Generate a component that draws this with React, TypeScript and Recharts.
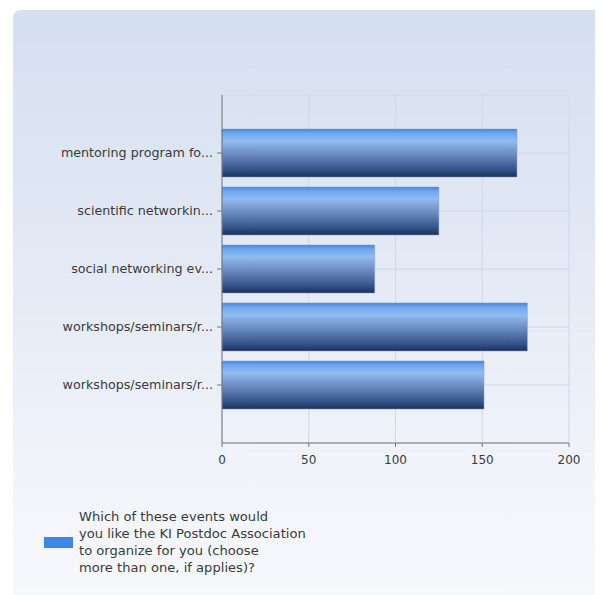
import React from "react";
import {
  BarChart,
  Bar,
  CartesianGrid,
  XAxis,
  YAxis,
} from "recharts";

const categories = [
  "mentoring program fo...",
  "scientific networkin...",
  "social networking ev...",
  "workshops/seminars/r...",
  "workshops/seminars/r... ",
];
const responses = [170, 125, 88, 176, 151];
const xTicks = [0, 50, 100, 150, 200];
const seriesName =
  "Which of these events would you like the KI Postdoc Association to organize for you (choose more than one, if applies)?";
// legend wraps the same way as the original
const legendLines = [
  "Which of these events would",
  "you like the KI Postdoc Association",
  "to organize for you (choose",
  "more than one, if applies)?",
];

const data = categories.map((c, i) => ({ name: c, value: responses[i] }));

const font = "'DejaVu Sans', Verdana, sans-serif";

const CategoryTick = (props: any) => {
  const { x, y, payload } = props;
  return (
    <text
      x={x}
      y={y}
      dy={4}
      textAnchor="end"
      fontSize={12.7}
      fontFamily={font}
      fill="#3a3a3a"
    >
      {String(payload.value).trim()}
    </text>
  );
};

const App: React.FC = () => {
  return (
    <div style={{ position: "relative", width: 595, height: 587, overflow: "hidden" }}>
      <div
        style={{
          position: "absolute",
          left: 5,
          top: 2,
          width: 600,
          height: 600,
          borderRadius: 8,
          background: "linear-gradient(to bottom, #d4dff0 0%, #e6ecf6 50%, #f4f6fb 85%, #f6f8fc 100%)",
        }}
      />
      <div style={{ position: "absolute", left: 0, top: 0 }}>
        <BarChart
          width={595}
          height={587}
          data={data}
          layout="vertical"
          margin={{ top: 87, right: 34, left: 0, bottom: 122 }}
        >
          <defs>
            <linearGradient id="barFill" x1="0" y1="0" x2="0" y2="1">
              <stop offset="0%" stopColor="#3a86ec" />
              <stop offset="8%" stopColor="#6aa5ef" />
              <stop offset="25%" stopColor="#91bcf1" />
              <stop offset="55%" stopColor="#6787bd" />
              <stop offset="85%" stopColor="#34538a" />
              <stop offset="100%" stopColor="#1a315a" />
            </linearGradient>
          </defs>
          <CartesianGrid stroke="#cfd8e6" strokeWidth={1} />
          <XAxis
            type="number"
            domain={[0, 200]}
            ticks={xTicks}
            height={30}
            tick={{ fontSize: 12, fontFamily: font, fill: "#3a3a3a" }}
            tickSize={4}
            tickMargin={8}
            stroke="#777"
            interval={0}
          />
          <XAxis
            xAxisId="top"
            orientation="top"
            type="number"
            domain={[0, 200]}
            ticks={xTicks}
            tick={false}
            tickLine={false}
            height={0}
            stroke="#cfd8e6"
          />
          <YAxis
            type="category"
            dataKey="name"
            width={214}
            padding={{ top: 29, bottom: 29 }}
            tick={<CategoryTick />}
            tickSize={5}
            tickMargin={4}
            stroke="#777"
            interval={0}
          />
          <Bar
            dataKey="value"
            name={seriesName}
            fill="url(#barFill)"
            stroke="#8a9ab4"
            strokeOpacity={0.5}
            barSize={48}
            isAnimationActive={false}
          />
        </BarChart>
      </div>
      <div
        style={{
          position: "absolute",
          left: 36,
          top: 529,
          width: 29,
          height: 11,
          background: "#3b86ea",
        }}
      />
      <div
        style={{
          position: "absolute",
          left: 71,
          top: 500,
          fontFamily: font,
          fontSize: 13.1,
          lineHeight: "17px",
          color: "#3a3a3a",
          whiteSpace: "nowrap",
        }}
      >
        {legendLines.map((l, i) => (
          <div key={i}>{l}</div>
        ))}
      </div>
    </div>
  );
};

export default App;
